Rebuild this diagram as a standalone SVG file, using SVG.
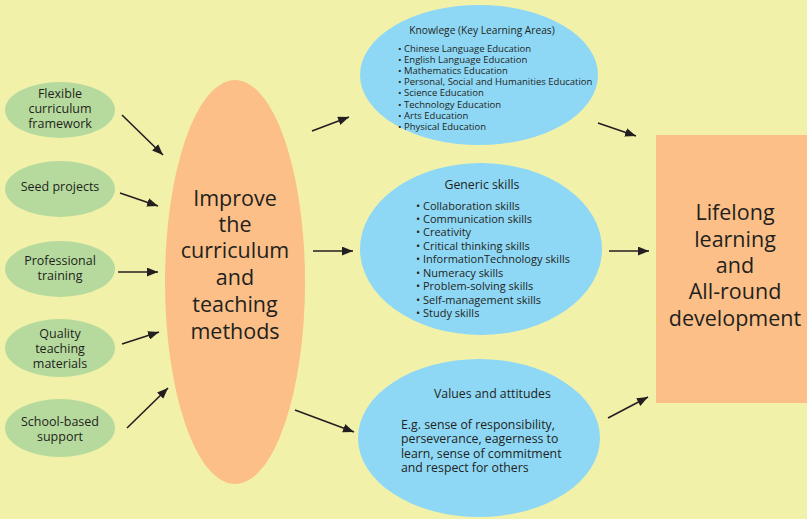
<svg xmlns="http://www.w3.org/2000/svg" width="807" height="519" viewBox="0 0 807 519">
<defs>
<marker id="ah" viewBox="0 0 10 8" refX="10" refY="4" markerWidth="11" markerHeight="9" markerUnits="userSpaceOnUse" orient="auto">
<path d="M0,0 L10,4 L0,8 Z" fill="#231f20"/>
</marker>
</defs>
<style>
text{font-family:"Open Sans","Noto Sans","Liberation Sans",sans-serif;fill:#231f20}
.g{fill:#b6da9d}
.b{fill:#8ed8f6}
.o{fill:#fbbf87}
.gt{font-size:12.5px;text-anchor:middle}
.big{font-size:21.5px;text-anchor:middle}
.kt{font-size:10.2px}
.kl{font-size:9.5px}
.gh{font-size:12.3px}
.gs{font-size:11px}
.va{font-size:12.3px}
.c line{stroke:#231f20;stroke-width:1.6;marker-end:url(#ah)}
</style>
<rect width="807" height="519" fill="#f2f1aa"/>
<g id="n-flexible"><ellipse class="g" cx="60" cy="110" rx="55" ry="28"/><text class="gt" x="60" y="98">Flexible</text><text class="gt" x="60" y="113">curriculum</text><text class="gt" x="60" y="128">framework</text></g>
<g id="n-seed"><ellipse class="g" cx="60" cy="189" rx="55" ry="28"/><text class="gt" x="60" y="191">Seed projects</text></g>
<g id="n-professional"><ellipse class="g" cx="60" cy="269" rx="55" ry="28"/><text class="gt" x="60" y="265">Professional</text><text class="gt" x="60" y="280">training</text></g>
<g id="n-quality"><ellipse class="g" cx="60" cy="348" rx="55" ry="29"/><text class="gt" x="60" y="338">Quality</text><text class="gt" x="60" y="353">teaching</text><text class="gt" x="60" y="368">materials</text></g>
<g id="n-school"><ellipse class="g" cx="60" cy="428" rx="55" ry="29"/><text class="gt" x="60" y="426">School-based</text><text class="gt" x="60" y="441">support</text></g>
<g id="n-improve"><ellipse class="o" cx="235" cy="282" rx="70" ry="202"/>
<text class="big" x="235" y="206">Improve</text><text class="big" x="235" y="232">the</text><text class="big" x="235" y="258">curriculum</text><text class="big" x="235" y="285">and</text><text class="big" x="235" y="312">teaching</text><text class="big" x="235" y="339">methods</text></g>
<g id="n-knowledge"><ellipse class="b" cx="479" cy="75" rx="119" ry="70"/>
<text class="kt" x="482" y="34" text-anchor="middle">Knowlege (Key Learning Areas)</text>
<text class="kl" x="398" y="52">• Chinese Language Education</text>
<text class="kl" x="398" y="63">• English Language Education</text>
<text class="kl" x="398" y="74">• Mathematics Education</text>
<text class="kl" x="398" y="85">• Personal, Social and Humanities Education</text>
<text class="kl" x="398" y="96">• Science Education</text>
<text class="kl" x="398" y="108">• Technology Education</text>
<text class="kl" x="398" y="119">• Arts Education</text>
<text class="kl" x="398" y="130">• Physical Education</text></g>
<g id="n-generic"><ellipse class="b" cx="481" cy="249" rx="121" ry="86"/>
<text class="gh" x="482" y="189" text-anchor="middle">Generic skills</text>
<text class="gs" x="416" y="210">• Collaboration skills</text>
<text class="gs" x="416" y="223">• Communication skills</text>
<text class="gs" x="416" y="236">• Creativity</text>
<text class="gs" x="416" y="250">• Critical thinking skills</text>
<text class="gs" x="416" y="263">• InformationTechnology skills</text>
<text class="gs" x="416" y="277">• Numeracy skills</text>
<text class="gs" x="416" y="290">• Problem-solving skills</text>
<text class="gs" x="416" y="304">• Self-management skills</text>
<text class="gs" x="416" y="317">• Study skills</text></g>
<g id="n-values"><ellipse class="b" cx="479" cy="438" rx="121" ry="79"/>
<text class="va" x="434" y="398">Values and attitudes</text>
<text class="va" x="401" y="429">E.g. sense of responsibility,</text>
<text class="va" x="401" y="443">perseverance, eagerness to</text>
<text class="va" x="401" y="458">learn, sense of commitment</text>
<text class="va" x="401" y="472">and respect for others</text></g>
<g id="n-lifelong"><rect class="o" x="656" y="135" width="151" height="268"/>
<text class="big" x="735" y="220">Lifelong</text><text class="big" x="735" y="247">learning</text><text class="big" x="735" y="273">and</text><text class="big" x="735" y="299">All-round</text><text class="big" x="735" y="326">development</text></g>
<g class="c" id="connectors">
<line x1="122" y1="115" x2="163" y2="155"/>
<line x1="120" y1="193" x2="158" y2="206"/>
<line x1="118" y1="272" x2="158" y2="272"/>
<line x1="122" y1="344" x2="159" y2="332"/>
<line x1="127" y1="428" x2="168" y2="388"/>
<line x1="312" y1="131" x2="349" y2="117"/>
<line x1="313" y1="251" x2="353" y2="251"/>
<line x1="295" y1="410" x2="354" y2="432"/>
<line x1="598" y1="123" x2="636" y2="136"/>
<line x1="609" y1="251" x2="649" y2="251"/>
<line x1="608" y1="418" x2="648" y2="397"/>
</g>
</svg>
